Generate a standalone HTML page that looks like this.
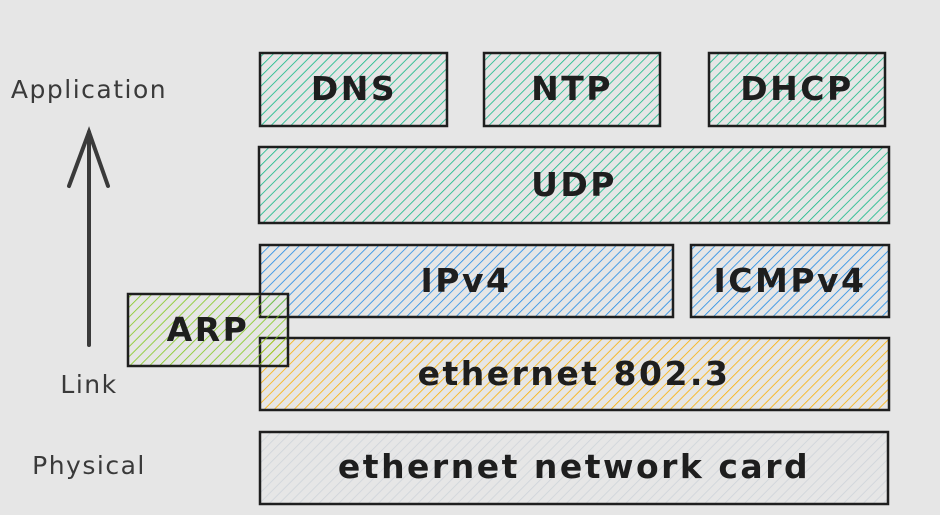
<!DOCTYPE html>
<html><head><style>
html,body{margin:0;padding:0;background:#e6e6e6;}
svg{display:block}
text{font-family:"DejaVu Sans","Liberation Sans",sans-serif;fill:#1e1e1e;}
</style></head><body>
<svg width="940" height="515" viewBox="0 0 940 515" xmlns="http://www.w3.org/2000/svg">
<defs>
<pattern id="hg" width="7" height="7" patternUnits="userSpaceOnUse" patternTransform="rotate(45)"><line x1="0" y1="0" x2="0" y2="7" stroke="#12b886" stroke-width="1.6"/></pattern>
<pattern id="hb" width="7" height="7" patternUnits="userSpaceOnUse" patternTransform="rotate(45)"><line x1="0" y1="0" x2="0" y2="7" stroke="#228be6" stroke-width="1.6"/></pattern>
<pattern id="ho" width="7" height="7" patternUnits="userSpaceOnUse" patternTransform="rotate(45)"><line x1="0" y1="0" x2="0" y2="7" stroke="#fab005" stroke-width="1.6"/></pattern>
<pattern id="hl" width="7" height="7" patternUnits="userSpaceOnUse" patternTransform="rotate(45)"><line x1="0" y1="0" x2="0" y2="7" stroke="#82c91e" stroke-width="1.6"/></pattern>
<pattern id="hx" width="7" height="7" patternUnits="userSpaceOnUse" patternTransform="rotate(45)"><line x1="0" y1="0" x2="0" y2="7" stroke="#ced4da" stroke-width="1.6"/></pattern>
</defs>
<rect width="940" height="515" fill="#e6e6e6"/>
<g stroke="#1e1e1e" stroke-width="2.5">
<rect x="260" y="53" width="187" height="73" fill="url(#hg)"/>
<rect x="484" y="53" width="176" height="73" fill="url(#hg)"/>
<rect x="709" y="53" width="176" height="73" fill="url(#hg)"/>
<rect x="259" y="147" width="630" height="76" fill="url(#hg)"/>
<rect x="260" y="245" width="413" height="72" fill="url(#hb)"/>
<rect x="691" y="245" width="198" height="72" fill="url(#hb)"/>
<rect x="260" y="338" width="629" height="72" fill="url(#ho)"/>
<rect x="260" y="432" width="628" height="72" fill="url(#hx)"/>
<rect x="128" y="294" width="160" height="72" fill="url(#hl)"/>
</g>
<g stroke="#3a3a3a" stroke-width="4" fill="none" stroke-linecap="round">
<line x1="89" y1="345" x2="89" y2="132"/>
<polyline points="69,186 89,132 108,186"/>
</g>
<g font-size="33" text-anchor="middle" letter-spacing="2.5" font-weight="600">
<text x="354" y="100">DNS</text>
<text x="572" y="100">NTP</text>
<text x="797" y="100">DHCP</text>
<text x="574" y="196">UDP</text>
<text x="466" y="292">IPv4</text>
<text x="790" y="292">ICMPv4</text>
<text x="208" y="341">ARP</text>
<text x="574" y="385">ethernet 802.3</text>
<text x="574" y="478">ethernet network card</text>
</g>
<g font-size="25" text-anchor="middle" letter-spacing="1.5">
<text x="89" y="98" style="fill:#3a3a3a">Application</text>
<text x="89" y="393" style="fill:#3a3a3a">Link</text>
<text x="89" y="474" style="fill:#3a3a3a">Physical</text>
</g>
</svg>
</body></html>
